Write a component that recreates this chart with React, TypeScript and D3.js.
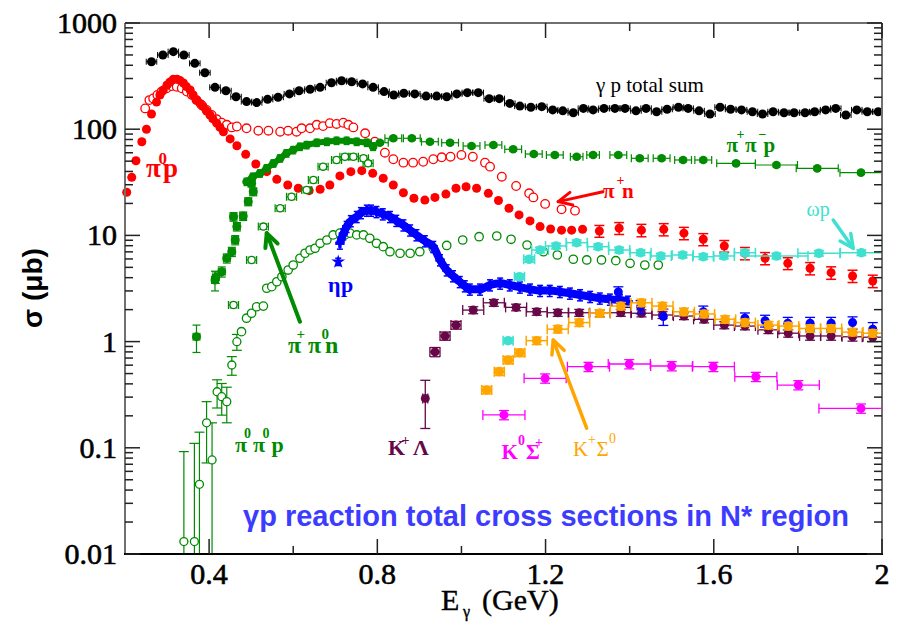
import React from "react";
import * as d3 from "d3";

// ---------------- data (E in GeV, sigma in microbarn) ----------------
const totalE = [0.263,0.290,0.315,0.340,0.366,0.390,0.414,0.440,0.464,0.489,0.513,0.539,0.564,0.591,0.614,0.640,0.664,0.691,0.715,0.739,0.765,0.790,0.816,0.839,0.863,0.889,0.916,0.941,0.965,0.989,1.014,1.040,1.066,1.090,1.115,1.139,1.165,1.191,1.217,1.241,1.266,1.290,1.313,1.339,1.365,1.389,1.415,1.439,1.464,1.489,1.516,1.539,1.565,1.591,1.615,1.640,1.666,1.692,1.716,1.741,1.767,1.791,1.817,1.840,1.866,1.890,1.914,1.940,1.965,1.991];
const totalS = [432,500,537,500,417,340,248,230,202,182,178,191,200,215,230,238,248,274,286,280,267,248,226,210,218,215,205,205,202,215,221,221,194,194,175,165,161,163,152,149,143,157,152,157,157,157,149,157,146,154,161,157,149,139,161,154,152,146,139,146,143,143,143,146,152,157,136,152,146,146];

const pi0pE = [0.204,0.216,0.226,0.240,0.251,0.263,0.275,0.283,0.291,0.300,0.307,0.315,0.324,0.331,0.339,0.346,0.355,0.362,0.370,0.378,0.386,0.394,0.402,0.409,0.418,0.426,0.434,0.450,0.466,0.487,0.511,0.537,0.561,0.587,0.612,0.638,0.664,0.687,0.711,0.737,0.763,0.789,0.814,0.838,0.862,0.887,0.913,0.937,0.963,0.987,1.011,1.036,1.064,1.088,1.113,1.137,1.163,1.187,1.212,1.238,1.262,1.288];
const pi0pS = [25.5,35.2,50.5,76.2,100,139,180,210,234,261,278,295,295,287,272,252,234,210,188,176,163,148,136,125,114,104,94.7,81,69.9,58.0,47.0,39.8,33.7,29.8,27.8,26.4,27.2,29.8,36.3,39.8,40.7,38.4,34.5,29.8,25.2,22.4,21.5,22.8,24.5,27.8,28.7,27.8,24.9,21.3,18.0,15.6,13.7,12.1,11.5,11.2,11.2,11.4];

const pi0pHiE = [1.328,1.375,1.428,1.481,1.529,1.575,1.625,1.674,1.722,1.776,1.829,1.879,1.930,1.978];
const pi0pHiS = [11.0,11.7,11.2,11.4,10.5,9.19,7.95,6.79,6.09,5.46,4.90,4.46,4.15,3.72];
const pi0pHiErr = [1.4,1.5,1.5,1.5,1.4,1.2,1.0,0.9,0.8,0.7,0.65,0.6,0.55,0.5];

const pipnE = [0.248,0.258,0.267,0.277,0.287,0.299,0.311,0.323,0.335,0.347,0.359,0.370,0.382,0.394,0.406,0.418,0.430,0.442,0.454,0.466,0.489,0.517,0.541,0.569,0.588,0.608,0.620,0.640,0.656,0.671,0.687,0.703,0.719,0.731,0.743,0.771,0.794,0.818,0.838,0.862,0.885,0.909,0.933,0.953,0.974,1.000,1.027,1.056,1.068,1.096,1.130,1.161,1.171,1.199,1.238,1.270];
const pipnS = [157,188,195,210,226,243,255,251,243,226,210,188,169,152,136,124,115,110,104,106,102,96.8,96.8,94.7,96.8,94.7,102,102,110,107,114,112,115,110,104,91.5,76.2,60.1,52.1,48.4,48.4,49.4,52.1,54.4,55.1,57.2,55.1,48.4,44.4,35.7,29.2,24.9,22.8,19.8,17.6,17.1];

const pippimLoE = [0.370,0.414,0.416,0.430,0.442,0.454,0.458,0.462,0.466,0.481,0.493,0.501,0.505];
const pippimLoS = [1.11,3.80,4.03,4.55,6.09,7.02,15.0,9.05,12.1,15.2,20.8,30.9,25.8];
const pippimLoErr = [0.32,0.8,0.5,0.5,0.6,0.7,1.4,0.9,1.1,1.4,1.8,2.4,2.2];

const pippimE = [0.489,0.504,0.521,0.537,0.553,0.569,0.584,0.600,0.616,0.632,0.656,0.680,0.703,0.727,0.751,0.775,0.790];
const pippimS = [32.0,35.7,38.4,42.8,47.7,53.2,59.3,63.7,68.4,71.0,74.6,76.2,77.9,77.9,76.2,74.6,68.4];

const pippimHiE = [0.806,0.838,0.882,0.925,0.973,1.024,1.076,1.123,1.172,1.222,1.274,1.313,1.373,1.424,1.476,1.527,1.575,1.653,1.749,1.846,1.950];
const pippimHiS = [74.6,82.1,82.1,76.2,74.6,69.5,71.0,64.7,58.4,57.2,55.1,57.2,57.2,53.2,53.2,51.3,51.3,47.7,46.0,42.8,39.0];
const pippimHiXErr = [0.02,0.02,0.02,0.02,0.02,0.02,0.02,0.02,0.02,0.02,0.015,0.015,0.02,0.02,0.02,0.02,0.02,0.046,0.05,0.05,0.05];

const pippi0nE = [0.458,0.501,0.529,0.569,0.596,0.632,0.648,0.671,0.703,0.723,0.743,0.767,0.778];
const pippi0nS = [2.21,5.87,12.1,18.0,23.1,26.8,33.2,44.4,51.3,55.1,55.1,53.2,47.7];

const pi0pi0pLoE = [0.340,0.365,0.377,0.394,0.407,0.419,0.430,0.442,0.454,0.466];
const pi0pi0pLoS = [0.0131,0.0131,0.0453,0.172,0.0768,0.337,0.303,0.272,0.602,0.998];
const pi0pi0pLoErr = [0.079,0.097,0.095,0.10,0.095,0.10,0.10,0.10,0.12,0.17];

const pi0pi0pE = [0.477,0.489,0.501,0.513,0.529,0.537,0.549,0.561,0.573,0.588,0.600,0.616,0.628,0.640,0.652,0.664,0.680,0.695,0.711,0.723,0.735,0.751,0.767,0.782,0.798,0.814,0.830,0.854,0.878,0.901,0.933,0.965,1.003,1.042,1.084,1.118,1.156,1.195,1.228,1.266,1.298,1.333,1.367,1.401,1.436,1.468];
const pi0pi0pS = [1.24,1.66,1.85,2.13,2.16,3.18,3.29,3.66,4.08,4.72,5.26,6.09,6.79,7.29,7.56,8.43,9.05,10.1,10.5,10.1,10.5,10.1,10.1,9.39,8.43,7.83,7.02,6.79,6.79,7.02,7.56,8.04,9.05,9.72,9.87,9.19,8.12,7.02,6.54,5.96,5.87,5.87,5.78,5.46,5.26,5.26];

const etapE = [0.711,0.719,0.727,0.737,0.751,0.761,0.775,0.785,0.798,0.813,0.830,0.845,0.862,0.878,0.893,0.913,0.933,0.949,0.965,0.980,0.996,1.008,1.020,1.044,1.068,1.092,1.115,1.139,1.163,1.187,1.210,1.234,1.258,1.282,1.306,1.329,1.353,1.377,1.396];
const etapS = [8.43,10.3,12.1,13.7,15.0,16.3,17.2,17.2,16.7,15.9,15.0,13.8,12.5,11.2,10.1,8.86,7.83,5.87,4.72,4.15,3.66,3.34,3.11,3.11,3.41,3.54,3.41,3.25,3.11,3.02,3.02,2.95,2.85,2.75,2.65,2.56,2.50,2.46,2.39];
const etapThrE = [0.707];
const etapThrS = [5.65];

const etapHiE = [1.373,1.426,1.480,1.575,1.674,1.722,1.776,1.829,1.879,1.930,1.978];
const etapHiS = [2.93,2.13,1.72,1.91,1.66,1.57,1.49,1.49,1.49,1.51,1.31];
const etapHiErr = [0.35,0.3,0.3,0.25,0.2,0.2,0.2,0.2,0.2,0.2,0.2];

const omegaE = [1.111,1.138,1.161,1.187,1.225,1.274,1.325,1.375,1.426,1.474,1.526,1.575,1.624,1.674,1.749,1.850,1.951];
const omegaS = [1.02,4.08,5.96,7.29,7.95,8.54,7.83,7.29,6.87,6.40,6.54,6.30,6.40,6.87,6.40,6.79,6.87];
const omegaXErr = [0.012,0.012,0.013,0.02,0.025,0.025,0.025,0.025,0.025,0.025,0.025,0.025,0.025,0.025,0.075,0.05,0.05];

const kLamE = [0.914,0.937,0.961,0.987,1.028,1.077,1.130,1.179,1.229,1.280,1.329,1.379,1.428,1.478,1.529,1.577,1.625,1.674,1.730,1.777,1.829,1.879,1.930,1.978];
const kLamS = [0.292,0.80,1.13,1.43,1.98,2.32,2.10,1.91,1.87,1.87,1.85,1.87,1.85,1.78,1.74,1.62,1.43,1.40,1.29,1.20,1.13,1.13,1.11,1.10];
const kLamXErr = [0.006,0.012,0.012,0.012,0.025,0.025,0.025,0.025,0.025,0.025,0.025,0.025,0.025,0.025,0.025,0.025,0.025,0.025,0.025,0.025,0.025,0.025,0.025,0.025];
const kLamErr = [0.14,0.08,0.1,0.12,0.15,0.17,0.15,0.14,0.14,0.14,0.14,0.14,0.14,0.13,0.13,0.12,0.11,0.11,0.1,0.1,0.1,0.1,0.1,0.1];

const kSig0E = [1.060,1.090,1.111,1.139,1.179,1.229,1.280,1.329,1.379,1.428,1.478,1.529,1.577,1.627,1.674,1.730,1.777,1.829,1.879,1.930,1.978];
const kSig0S = [0.350,0.521,0.671,0.786,1.02,1.31,1.51,1.85,2.16,2.32,2.16,1.91,1.82,1.62,1.51,1.43,1.40,1.33,1.33,1.23,1.20];
const kSig0XErr = [0.012,0.012,0.012,0.012,0.025,0.025,0.025,0.025,0.025,0.025,0.025,0.025,0.025,0.025,0.025,0.025,0.025,0.025,0.025,0.025,0.025];

const k0SigE = [1.101,1.199,1.302,1.399,1.500,1.599,1.700,1.801,1.950];
const k0SigS = [0.204,0.451,0.580,0.615,0.589,0.580,0.467,0.390,0.235];
const k0SigXErr = [0.05,0.05,0.05,0.05,0.05,0.05,0.05,0.05,0.1];

const xMajorTicks = [0.4, 0.8, 1.2, 1.6, 2.0];
const xTickLabels = ["0.4", "0.8", "1.2", "1.6", "2"];
const xMinorTicks = [0.6, 1.0, 1.4, 1.8];
const yMajorTicks = [0.01, 0.1, 1, 10, 100, 1000];
const yTickLabels = ["0.01", "0.1", "1", "10", "100", "1000"];

// ---------------- colours ----------------
const RED = "#ff0000";
const GREEN = "#008b00";
const BLUE = "#0000ff";
const TURQ = "#40e0d0";
const MAROON = "#670748";
const ORANGE = "#ffa500";
const MAGENTA = "#ff00ff";

const SERIF = "'Liberation Serif','Times New Roman',serif";
const SANS = "'Liberation Sans',Arial,sans-serif";

type Num = number | number[] | undefined;
const pick = (v: Num, i: number) => (v === undefined ? 0 : Array.isArray(v) ? v[i] : v);

interface Ser {
  E: number[];
  S: number[];
  color: string;
  marker: "fill" | "open" | "star" | "none";
  r?: number;
  xe?: Num;
  ye?: Num;
  yeFrac?: number;
  cap?: number;
  ew?: number;
  sw?: number;
}

export default function App() {
  const W = 901, H = 628;
  const L = 125, R = 882, T = 23, B = 554;
  const x = d3.scaleLinear().domain([0.2, 2.0]).range([L, R]);
  const y = d3.scaleLog().domain([0.01, 1000]).range([B, T]);

  const yMinor: number[] = [];
  [0.01, 0.1, 1, 10, 100].forEach((d) => {
    for (let k = 2; k <= 9; k++) yMinor.push(d * k);
  });

  const renderErr = (key: string, s: Ser) => {
    const cap = s.cap ?? 4;
    const ew = s.ew ?? 1.2;
    const out: JSX.Element[] = [];
    s.E.forEach((e, i) => {
      const v = s.S[i];
      const cx = x(e), cy = y(v);
      let ye = pick(s.ye, i);
      if (!ye && s.yeFrac) ye = v * s.yeFrac;
      if (ye > 0) {
        const y1 = y(v + ye);
        const lo = v - ye;
        const y2 = lo > 0 ? y(lo) : B + 50;
        out.push(<line key={`${key}v${i}`} x1={cx} x2={cx} y1={y1} y2={y2} stroke={s.color} strokeWidth={ew} />);
        out.push(<line key={`${key}vc${i}`} x1={cx - cap} x2={cx + cap} y1={y1} y2={y1} stroke={s.color} strokeWidth={ew} />);
        if (lo > 0) out.push(<line key={`${key}vd${i}`} x1={cx - cap} x2={cx + cap} y1={y2} y2={y2} stroke={s.color} strokeWidth={ew} />);
      }
      const xe = pick(s.xe, i);
      if (xe > 0) {
        const x1 = x(e - xe), x2 = x(e + xe);
        out.push(<line key={`${key}h${i}`} x1={x1} x2={x2} y1={cy} y2={cy} stroke={s.color} strokeWidth={ew} />);
        out.push(<line key={`${key}hl${i}`} x1={x1} x2={x1} y1={cy - cap} y2={cy + cap} stroke={s.color} strokeWidth={ew} />);
        out.push(<line key={`${key}hr${i}`} x1={x2} x2={x2} y1={cy - cap} y2={cy + cap} stroke={s.color} strokeWidth={ew} />);
      }
    });
    return out;
  };

  const star = d3.symbol().type(d3.symbolStar).size(60)() as string;
  const cross = d3.symbol().type(d3.symbolCross).size(45)() as string;

  const renderMarks = (key: string, s: Ser) => {
    const r = s.r ?? 4.5;
    return s.E.map((e, i) => {
      const cx = x(e), cy = y(s.S[i]);
      if (s.marker === "fill") return <circle key={`${key}m${i}`} cx={cx} cy={cy} r={r} fill={s.color} />;
      if (s.marker === "open")
        return <circle key={`${key}m${i}`} cx={cx} cy={cy} r={r} fill="#fff" stroke={s.color} strokeWidth={s.sw ?? 1.3} />;
      if (s.marker === "star") return <path key={`${key}m${i}`} d={star} transform={`translate(${cx},${cy})`} fill={s.color} />;
      return <path key={`${key}m${i}`} d={cross} transform={`translate(${cx},${cy})`} fill={s.color} />;
    });
  };

  const series: [string, Ser][] = [
    ["tot", { E: totalE, S: totalS, color: "#000", marker: "fill", r: 4.5, xe: 0.0125, yeFrac: 0.03, cap: 3, ew: 1 }],
    ["pipn", { E: pipnE, S: pipnS, color: RED, marker: "open", r: 4.3, yeFrac: 0.04, cap: 3.5, ew: 1.1 }],
    ["pi0p", { E: pi0pE, S: pi0pS, color: RED, marker: "fill", r: 4.5, yeFrac: 0.05, cap: 3.5 }],
    ["pi0pHi", { E: pi0pHiE, S: pi0pHiS, color: RED, marker: "fill", r: 4.5, ye: pi0pHiErr, cap: 5, ew: 1.5 }],
    ["ppmHi", { E: pippimHiE, S: pippimHiS, color: GREEN, marker: "fill", r: 4.3, xe: pippimHiXErr, yeFrac: 0.04, cap: 4 }],
    ["ppmLo", { E: pippimLoE, S: pippimLoS, color: GREEN, marker: "fill", r: 4.5, ye: pippimLoErr, xe: 0.008, cap: 4 }],
    ["ppm", { E: pippimE, S: pippimS, color: GREEN, marker: "fill", r: 4.3, yeFrac: 0.08, cap: 3 }],
    ["pp0n", { E: pippi0nE, S: pippi0nS, color: GREEN, marker: "open", r: 3.6, xe: 0.012, yeFrac: 0.06, cap: 4 }],
    ["p0p0Lo", { E: pi0pi0pLoE, S: pi0pi0pLoS, color: GREEN, marker: "open", r: 4, ye: pi0pi0pLoErr, cap: 5 }],
    ["p0p0", { E: pi0pi0pE, S: pi0pi0pS, color: GREEN, marker: "open", r: 4.2, yeFrac: 0.04, cap: 3 }],
    ["etap", { E: etapE, S: etapS, color: BLUE, marker: "none", yeFrac: 0.12, cap: 3, ew: 1.5 }],
    ["etaThr", { E: etapThrE, S: etapThrS, color: BLUE, marker: "star", yeFrac: 0.08, cap: 3, ew: 1.5 }],
    ["omega", { E: omegaE, S: omegaS, color: TURQ, marker: "fill", r: 4.8, xe: omegaXErr, yeFrac: 0.06, cap: 5, ew: 1.5 }],
    ["klam", { E: kLamE, S: kLamS, color: MAROON, marker: "fill", r: 4.5, xe: kLamXErr, ye: kLamErr, cap: 5, ew: 1.3 }],
    ["etaHi", { E: etapHiE, S: etapHiS, color: BLUE, marker: "fill", r: 4.5, ye: etapHiErr, cap: 5, ew: 1.3 }],
    ["ks0", { E: kSig0E, S: kSig0S, color: ORANGE, marker: "fill", r: 4.8, xe: kSig0XErr, yeFrac: 0.08, cap: 5, ew: 1.5 }],
    ["k0s", { E: k0SigE, S: k0SigS, color: MAGENTA, marker: "fill", r: 4.5, xe: k0SigXErr, yeFrac: 0.1, cap: 5, ew: 1.3 }],
  ];

  const path = (E: number[], S: number[]) =>
    d3
      .line<[number, number]>()
      .x((d) => x(d[0]))
      .y((d) => y(d[1]))
      .curve(d3.curveMonotoneX)(E.map((e, i) => [e, S[i]] as [number, number])) as string;

  const arrow = (key: string, e1: number, s1: number, e2: number, s2: number, color: string, sw: number) => {
    const x1 = x(e1), y1 = y(s1), x2 = x(e2), y2 = y(s2);
    const a = Math.atan2(y1 - y2, x1 - x2);
    const len = 15, spread = 0.45;
    const hx1 = x2 + len * Math.cos(a + spread), hy1 = y2 + len * Math.sin(a + spread);
    const hx2 = x2 + len * Math.cos(a - spread), hy2 = y2 + len * Math.sin(a - spread);
    return (
      <g key={key} stroke={color} strokeWidth={sw} fill="none" strokeLinecap="round" strokeLinejoin="round">
        <line x1={x1} y1={y1} x2={x2} y2={y2} />
        <polyline points={`${hx1},${hy1} ${x2},${y2} ${hx2},${hy2}`} />
      </g>
    );
  };

  // one <text> per label, with positioned tspans for the raised indices
  type Piece = [number, number, string, number];
  const label = (key: string, pieces: Piece[], color: string, bold: boolean, family = SERIF) => (
    <text key={key} fill={color} fontFamily={family} fontWeight={bold ? "bold" : "normal"}>
      {pieces.map((p, i) => (
        <tspan key={i} x={p[0]} y={p[1]} fontSize={p[3]}>
          {p[2]}
        </tspan>
      ))}
    </text>
  );

  return (
    <svg
      width={W}
      height={H}
      viewBox={`0 0 ${W} ${H}`}
      style={{ position: "absolute", left: 0, top: 0, background: "#fff" }}
    >
      <defs>
        <clipPath id="plotclip">
          <rect x={L} y={T} width={R - L} height={B - T} />
        </clipPath>
      </defs>
      <rect x={0} y={0} width={W} height={H} fill="#fff" />

      {/* thick band for the densely measured pi+pi-p series */}
      <g clipPath="url(#plotclip)" fill="none">
        <path d={path(pippimE, pippimS)} stroke={GREEN} strokeWidth={6} />
      </g>

      {series.map(([k, s]) => {
        const parts: JSX.Element[] = [];
        parts.push(
          <g key={k + "e"} clipPath="url(#plotclip)">
            {renderErr(k, s)}
          </g>
        );
        if (k === "etap") {
          parts.push(
            <path key={k + "band"} d={path(etapE, etapS)} fill="none" stroke={BLUE} strokeWidth={8} />
          );
          parts.push(
            <g key={k + "c"}>
              {etapE.map((e, i) => (
                <path key={i} d={cross} transform={`translate(${x(e)},${y(etapS[i])})`} fill={BLUE} />
              ))}
            </g>
          );
        }
        parts.push(<g key={k + "m"}>{renderMarks(k, s)}</g>);
        return <g key={k}>{parts}</g>;
      })}

      {/* frame */}
      <line x1={L} x2={R} y1={T} y2={T} stroke="#707070" strokeWidth={2} />
      <line x1={L} x2={L} y1={T} y2={B} stroke="#707070" strokeWidth={2} />
      <line x1={R} x2={R} y1={T} y2={B} stroke="#707070" strokeWidth={2} />
      <line x1={L - 1} x2={R + 1} y1={B} y2={B} stroke="#000" strokeWidth={2} />

      {/* ticks */}
      <g stroke="#222" strokeWidth={1.5}>
        {xMajorTicks.map((t, i) => (
          <g key={"xm" + i}>
            <line x1={x(t)} x2={x(t)} y1={B} y2={B - 15} />
            <line x1={x(t)} x2={x(t)} y1={T} y2={T + 15} />
          </g>
        ))}
        {xMinorTicks.map((t, i) => (
          <g key={"xn" + i}>
            <line x1={x(t)} x2={x(t)} y1={B} y2={B - 8} />
            <line x1={x(t)} x2={x(t)} y1={T} y2={T + 8} />
          </g>
        ))}
        {yMajorTicks.map((t, i) => (
          <g key={"ym" + i}>
            <line x1={L} x2={L + 15} y1={y(t)} y2={y(t)} />
            <line x1={R} x2={R - 15} y1={y(t)} y2={y(t)} />
          </g>
        ))}
        {yMinor.map((t, i) => (
          <g key={"yn" + i}>
            <line x1={L} x2={L + 8} y1={y(t)} y2={y(t)} />
            <line x1={R} x2={R - 8} y1={y(t)} y2={y(t)} />
          </g>
        ))}
      </g>

      {/* tick labels */}
      <g fontFamily={SERIF} fontSize={30} fill="#000" stroke="#000" strokeWidth={0.6}>
        {xMajorTicks.map((t, i) => (
          <text key={"xl" + i} x={x(t)} y={584} textAnchor="middle">
            {xTickLabels[i]}
          </text>
        ))}
        {yMajorTicks.map((t, i) => (
          <text key={"yl" + i} x={117} y={y(t) + 10} textAnchor="end">
            {yTickLabels[i]}
          </text>
        ))}
      </g>

      {/* axis titles */}
      <text fontFamily={SERIF} fill="#000" stroke="#000" strokeWidth={0.4}>
        <tspan x={441} y={610} fontSize={30}>E</tspan>
        <tspan x={463} y={617} fontSize={16}>γ</tspan>
        <tspan x={482} y={610} fontSize={30}>(GeV)</tspan>
      </text>
      <text
        transform="translate(42,288) rotate(-90)"
        textAnchor="middle"
        fontFamily={SANS}
        fontWeight="bold"
        fontSize={28}
        fill="#000"
      >
        σ (μb)
      </text>

      {/* arrows */}
      {arrow("a1", 1.3365, 25.8, 1.23, 20.8, RED, 3)}
      {arrow("a2", 1.884, 13.96, 1.9316, 7.56, TURQ, 3.5)}
      {arrow("a3", 0.616, 1.54, 0.537, 10.5, GREEN, 4)}
      {arrow("a4", 1.2977, 0.153, 1.2183, 1.035, ORANGE, 3.5)}

      {/* series labels */}
      {label("lt", [[596, 92, "γ p total sum", 21]], "#000", false)}
      {label("l1", [[146, 176.5, "π", 27], [158.5, 163.5, "0", 17], [163, 176.5, "p", 27]], RED, true)}
      {label("l2", [[726.5, 152, "π", 21], [736.5, 139, "+", 14], [745, 152, "π", 21], [758.5, 139, "−", 14], [763.5, 152, "p", 21]], GREEN, true)}
      {label("l3", [[603, 198, "π", 21], [616.5, 185, "+", 14], [622, 198, "n", 21]], RED, true)}
      {label("l4", [[328, 292, "η", 22], [341, 292, "p", 22]], BLUE, true)}
      {label("l5", [[806.5, 216, "ωp", 20]], TURQ, false)}
      {label("l6", [[288, 352.5, "π", 24], [296.5, 338.5, "+", 15], [308, 352.5, "π", 24], [321.5, 339, "0", 15], [325, 352.5, "n", 24]], GREEN, true)}
      {label("l7", [[235, 451.5, "π", 22], [244, 438, "0", 14], [253, 451.5, "π", 22], [262.5, 438, "0", 14], [271.5, 451.5, "p", 22]], GREEN, true)}
      {label("l8", [[388, 455, "K", 22], [401.5, 445, "+", 14], [413, 455, "Λ", 22]], MAROON, true)}
      {label("l9", [[501.5, 459, "K", 21], [518, 445, "0", 14], [526, 459, "Σ", 21], [535, 447, "+", 14]], MAGENTA, true)}
      {label("l10", [[573, 456, "K", 21], [588, 444, "+", 14], [596.5, 456, "Σ", 21], [609, 443, "0", 14]], ORANGE, false)}

      <text x={243} y={526} fontFamily={SANS} fontWeight="bold" fontSize={29} fill="#3c3cff">
        γp reaction total cross sections in N* region
      </text>
    </svg>
  );
}
